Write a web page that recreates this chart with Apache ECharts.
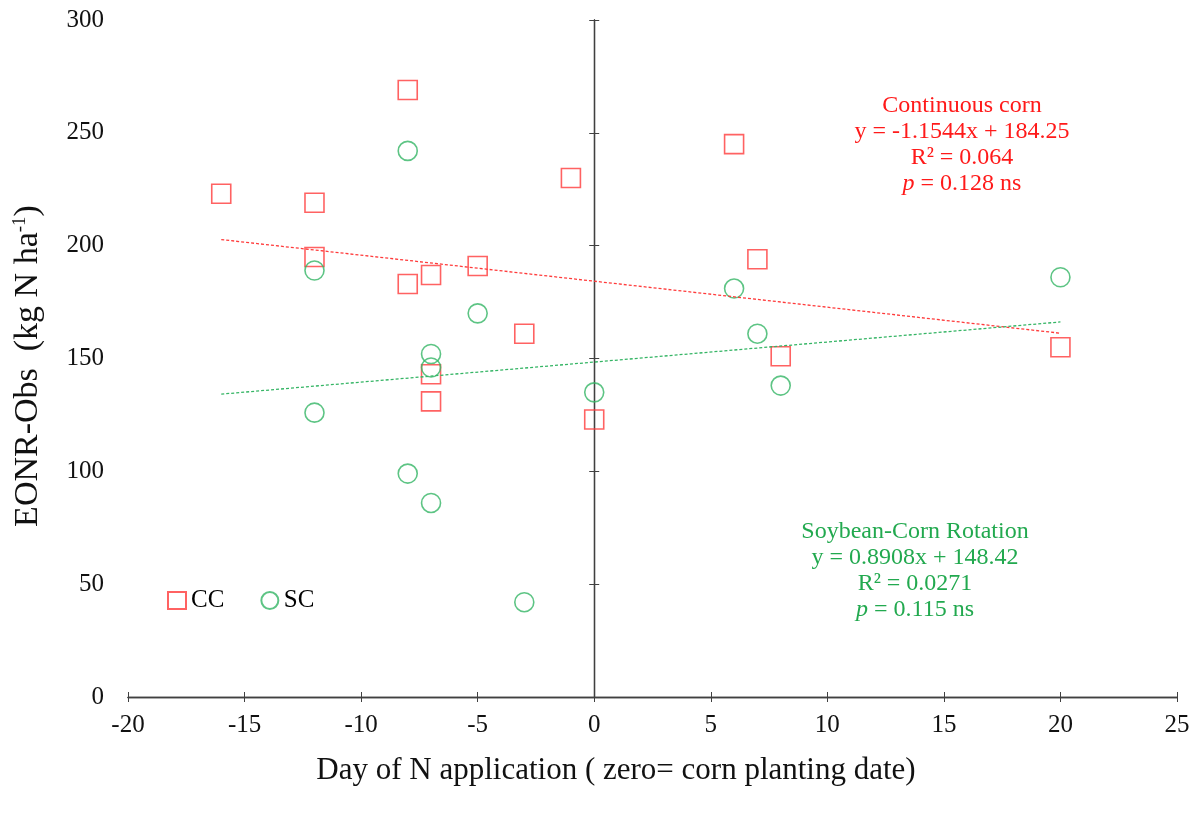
<!DOCTYPE html>
<html>
<head>
<meta charset="utf-8">
<script src="https://cdn.jsdelivr.net/npm/echarts@6/dist/echarts.min.js"></script>
<style>
  html, body { margin: 0; padding: 0; background: #fff; }
  #chart { width: 1197px; height: 819px; }
</style>
</head>
<body>
<div id="chart"></div>
<script>
// CC = continuous corn, SC = soybean-corn rotation
const ccPoints = [
  [-16, 223], [-12, 219], [-12, 195], [-8, 269], [-8, 183], [-7, 187],
  [-7, 143], [-7, 131], [-5, 191], [-3, 161], [-1, 230], [0, 123],
  [6, 245], [7, 194], [8, 151], [20, 155]
];
const scPoints = [
  [-12, 189], [-12, 126], [-8, 242], [-8, 99], [-7, 152], [-7, 146],
  [-7, 86], [-5, 170], [-3, 42], [0, 135], [6, 181], [7, 161],
  [8, 138], [20, 186]
];
// fitted lines, endpoints
const ccTrend = [[-16, 202.7], [20, 161.2]];
const scTrend = [[-16, 134.2], [20, 166.2]];

const ccText = ['Continuous corn', 'y = -1.1544x + 184.25', 'R² = 0.064', '{i|p} = 0.128 ns'];
const scText = ['Soybean-Corn Rotation', 'y = 0.8908x + 148.42', 'R² = 0.0271', '{i|p} = 0.115 ns'];

const RED = '#ff3b3b';
const GREEN = '#35b565';
const FONT = '"Liberation Serif", "Times New Roman", serif';
const AXIS = '#404040';

const chart = echarts.init(document.getElementById('chart'));

const xBase = {
  type: 'value', min: -20, max: 25, interval: 5, position: 'bottom',
  splitLine: { show: false },
  axisLine: { onZero: false, lineStyle: { color: AXIS, width: 1.3 } }
};
const yBase = {
  type: 'value', min: 0, max: 300, interval: 50,
  splitLine: { show: false }
};

const noteBlock = (lines, color, x, y) => ({
  type: 'text',
  x: x, y: y,
  style: {
    text: lines.join('\n'),
    fill: color,
    font: '24px ' + FONT,
    align: 'center',
    verticalAlign: 'top',
    lineHeight: 26,
    rich: { i: { fontStyle: 'italic', fontSize: 24, fontFamily: FONT, fill: color } }
  }
});

chart.setOption({
  backgroundColor: '#fff',
  animation: false,
  grid: { left: 128, right: 20, top: 20, bottom: 122 },
  xAxis: [
    Object.assign({}, xBase, {
      axisTick: { inside: false, length: 5, lineStyle: { color: AXIS } },
      axisLabel: { margin: 16, fontSize: 25, fontFamily: FONT, color: '#111' }
    }),
    Object.assign({}, xBase, {
      axisTick: { inside: true, length: 5, lineStyle: { color: AXIS } },
      axisLabel: { show: false }
    })
  ],
  yAxis: [
    Object.assign({}, yBase, {
      axisLine: { show: false, onZero: false },
      axisTick: { show: false },
      axisLabel: { margin: 24, fontSize: 25, fontFamily: FONT, color: '#111' }
    }),
    Object.assign({}, yBase, {
      axisLine: { show: true, onZero: true, onZeroAxisIndex: 0, lineStyle: { color: AXIS, width: 1.3 } },
      axisTick: { inside: true, length: 5, lineStyle: { color: AXIS } },
      axisLabel: { show: false }
    }),
    Object.assign({}, yBase, {
      axisLine: { show: true, onZero: true, onZeroAxisIndex: 0, lineStyle: { color: AXIS, width: 1.3 } },
      axisTick: { inside: false, length: 5, lineStyle: { color: AXIS } },
      axisLabel: { show: false }
    })
  ],
  legend: {
    data: ['CC', 'SC'],
    left: 162, top: 583,
    itemWidth: 18, itemHeight: 17, itemGap: 36,
    textStyle: { fontSize: 25, fontFamily: FONT, color: '#000' }
  },
  series: [
    {
      name: 'CC trend', type: 'line', data: ccTrend, symbol: 'none',
      lineStyle: { color: RED, width: 1.3, type: [3, 2] }
    },
    {
      name: 'SC trend', type: 'line', data: scTrend, symbol: 'none',
      lineStyle: { color: GREEN, width: 1.3, type: [3, 2] }
    },
    {
      name: 'CC', type: 'scatter', data: ccPoints, symbol: 'rect', symbolSize: 19,
      itemStyle: { color: 'rgba(255,255,255,0)', borderColor: RED, borderWidth: 1.6 }
    },
    {
      name: 'SC', type: 'scatter', data: scPoints, symbol: 'circle', symbolSize: 19,
      itemStyle: { color: 'rgba(255,255,255,0)', borderColor: GREEN, borderWidth: 1.6 }
    }
  ],
  graphic: [
    noteBlock(ccText, '#ff1a1a', 962, 93),
    noteBlock(scText, '#22a94f', 915, 519),
    {
      type: 'text', x: 616, y: 771,
      style: {
        text: 'Day of N application ( zero= corn planting date)',
        font: '31px ' + FONT, fill: '#111', align: 'center', verticalAlign: 'middle'
      }
    },
    {
      type: 'text', x: 28, y: 366, rotation: Math.PI / 2,
      style: {
        text: 'EONR-Obs  (kg N ha{s|-1})',
        font: '34px ' + FONT, fill: '#111', align: 'center', verticalAlign: 'middle',
        rich: { s: { fontSize: 19, fontFamily: FONT, verticalAlign: 'top', padding: [0, 0, 15, 0] } }
      }
    }
  ]
});
</script>
</body>
</html>
